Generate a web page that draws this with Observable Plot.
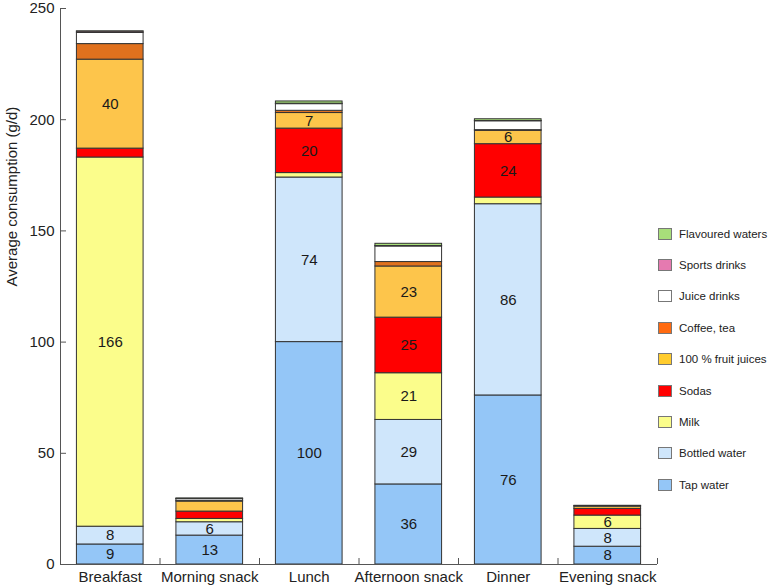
<!DOCTYPE html>
<html>
<head>
<meta charset="utf-8">
<script src="https://cdn.jsdelivr.net/npm/d3@7"></script>
<script src="https://cdn.jsdelivr.net/npm/@observablehq/plot@0.6"></script>
<style>
  html, body { margin: 0; padding: 0; background: #fff; }
  #wrap { position: relative; width: 770px; height: 587px; font-family: "Liberation Sans", Arial, Helvetica, sans-serif; }
  #legend { position: absolute; left: 658px; top: 218px; }
  .row { height: 31.4px; display: flex; align-items: center; font-size: 11.5px; color: #222; }
  .sw { width: 14px; height: 12px; border: 1px solid #777; box-sizing: border-box; margin-right: 7px; }
</style>
</head>
<body>
<div id="wrap"><div id="chart"></div><div id="legend"></div></div>
<script>
const categories = ["Breakfast", "Morning snack", "Lunch", "Afternoon snack", "Dinner", "Evening snack"];
const series = ["Tap water", "Bottled water", "Milk", "Sodas", "100 % fruit juices", "Coffee, tea", "Juice drinks", "Sports drinks", "Flavoured waters"];
const colors = ["#94c6f7", "#cfe6fb", "#fbfd8b", "#ff0000", "#fdc54b", "#e0711e", "#ffffff", "#e57ab0", "#a8df7a"];
const legendColors = ["#94c6f7", "#cfe6fb", "#fbfd8b", "#ff0000", "#ffcc2e", "#ff6a10", "#ffffff", "#e57ab0", "#a8df7a"];

const tapWater        = [9, 13, 100, 36, 76, 8];
const bottledWater    = [8, 6, 74, 29, 86, 8];
const milk            = [166, 1.5, 2, 21, 3, 6];
const sodas           = [4, 3.3, 20, 25, 24, 3];
const fruitJuices     = [40, 4.5, 7, 23, 6, 1];
const coffeeTea       = [7, 0.3, 1, 2, 0.3, 0];
const juiceDrinks     = [5, 0.8, 3, 7, 4, 0.3];
const sportsDrinks    = [0.6, 0.1, 0.2, 0.2, 0.1, 0];
const flavouredWaters = [0.1, 0.2, 1, 1, 0.8, 0.1];

const yTicks = [0, 50, 100, 150, 200, 250];

const seriesValues = [tapWater, bottledWater, milk, sodas, fruitJuices, coffeeTea, juiceDrinks, sportsDrinks, flavouredWaters];
const rows = [];
categories.forEach((c, i) => {
  seriesValues.forEach((vals, s) => {
    rows.push({cat: c, i, s, series: series[s], value: vals[i]});
  });
});

const font = "Liberation Sans, Arial, Helvetica, sans-serif";
const chart = Plot.plot({
  width: 770,
  height: 587,
  marginLeft: 60,
  marginRight: 113,
  marginTop: 8,
  marginBottom: 23,
  style: {fontFamily: font, fontSize: "15px", color: "#222", background: "#fff"},
  x: {domain: [0, 6], axis: null},
  y: {domain: [0, 250], axis: null},
  color: {domain: series, range: colors},
  marks: [
    Plot.rectY(rows, Plot.stackY({
      x1: d => d.i + 0.165,
      x2: d => d.i + 0.835,
      y: "value",
      fill: "series",
      stroke: "#333",
      strokeWidth: 1
    })),
    Plot.text(rows, Plot.stackY({
      x: d => d.i + 0.5,
      y: "value",
      z: "series",
      text: d => (d.s < 5 && d.value >= 6) ? String(Math.round(d.value)) : "",
      fill: "#1a1a1a",
      fontSize: 15
    })),
    Plot.ruleX([0], {y1: 0, y2: 250, stroke: "#555"}),
    Plot.ruleY([0], {x1: 0, x2: 6, stroke: "#555"}),
    Plot.axisY({ticks: yTicks, tickSize: -6, tickFormat: () => "", label: null, stroke: "#555"}),
    Plot.axisY({ticks: yTicks, tickSize: 0, tickPadding: 6, label: null, fontSize: 15, fill: "#222"}),
    Plot.axisX({ticks: [1, 2, 3, 4, 5, 6], tickSize: -6, tickFormat: () => "", label: null, stroke: "#555"}),
    Plot.axisX({ticks: [0.5, 1.5, 2.5, 3.5, 4.5, 5.5], tickSize: 0, tickPadding: 7, label: null,
      tickFormat: d => categories[Math.floor(d)], fontSize: 15, fill: "#222"}),
    Plot.text(["Average consumption (g/d)"], {
      frameAnchor: "left", dx: -48, rotate: -90, fontSize: 15, fill: "#222", text: d => d
    })
  ]
});
document.getElementById("chart").appendChild(chart);

const legend = document.getElementById("legend");
for (let s = series.length - 1; s >= 0; s--) {
  const row = document.createElement("div");
  row.className = "row";
  const sw = document.createElement("div");
  sw.className = "sw";
  sw.style.background = legendColors[s];
  const t = document.createElement("span");
  t.textContent = series[s];
  row.appendChild(sw);
  row.appendChild(t);
  legend.appendChild(row);
}
</script>
</body>
</html>
